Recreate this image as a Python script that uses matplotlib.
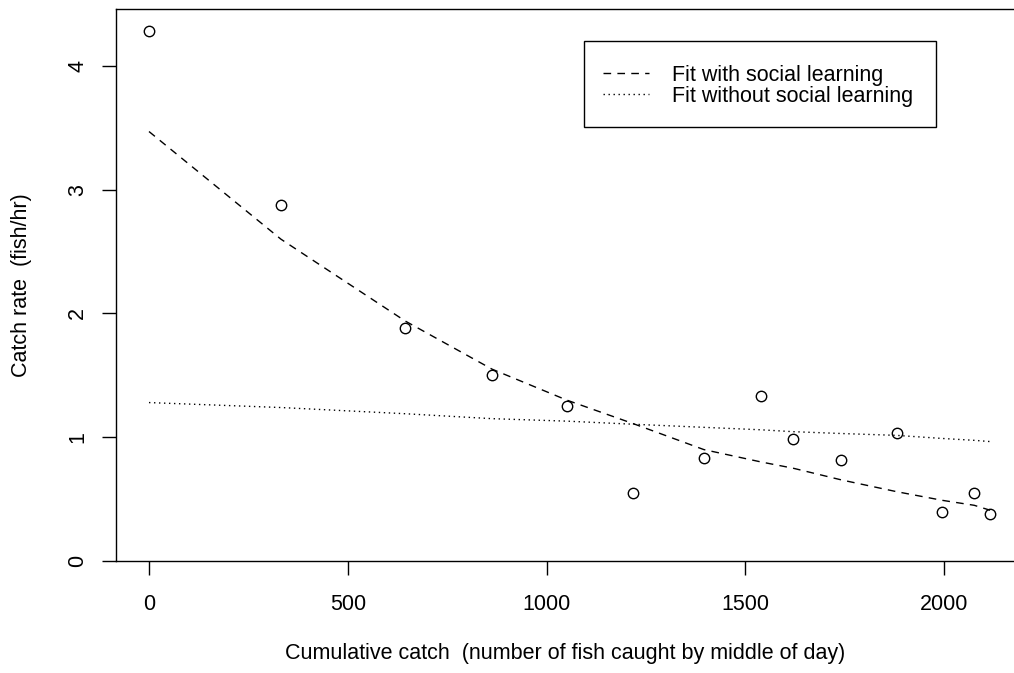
import matplotlib
matplotlib.use('Agg')
import matplotlib.pyplot as plt
from matplotlib.patches import Rectangle

plt.rcParams['font.family'] = ['Liberation Sans', 'DejaVu Sans']

# cumulative catch and observed catch rate
catch = [0, 332, 644, 863, 1051, 1218, 1396, 1540, 1620, 1742, 1881, 1996, 2076, 2116]
rate = [4.28, 2.88, 1.88, 1.50, 1.255, 0.547, 0.83, 1.336, 0.983, 0.816, 1.032, 0.394, 0.547, 0.38]
# model fits at the same points
fit_social = [3.47, 2.60, 1.94, 1.55, 1.30, 1.11, 0.90, 0.80, 0.75, 0.655, 0.56, 0.49, 0.45, 0.41]
fit_nosocial = [1.28, 1.24, 1.19, 1.15, 1.13, 1.105, 1.08, 1.06, 1.045, 1.03, 1.015, 0.99, 0.975, 0.965]

xticks = [0, 500, 1000, 1500, 2000]
yticks = [0, 1, 2, 3, 4]

fig = plt.figure(figsize=(10.14, 6.73), dpi=100)
ax = fig.add_axes([116/1014, 112/673, 898/1014, 552/673])

ax.plot(catch, rate, 'o', mfc='none', mec='black', ms=7.5, mew=1.0)
ax.plot(catch, fit_social, color='black', lw=1.0, dashes=(5.5, 4.5), label='Fit with social learning')
ax.plot(catch, fit_nosocial, color='black', lw=1.0, dashes=(1.0, 2.6), label='Fit without social learning')

ax.set_xlim(-83, 2176)
ax.set_ylim(0, 4.46)
ax.set_xticks(xticks)
ax.set_yticks(yticks)
ax.spines['right'].set_visible(False)
for s in ['left', 'bottom', 'top']:
    ax.spines[s].set_linewidth(1.0)
ax.tick_params(direction='out', length=10, width=1.0, labelsize=15.5, pad=14)
ax.tick_params(axis='y', pad=10)
for lab in ax.get_yticklabels():
    lab.set_rotation(90)
    lab.set_va('center')

ax.set_xlabel('Cumulative catch  (number of fish caught by middle of day)', fontsize=15.5, labelpad=20)
ax.set_ylabel('Catch rate  (fish/hr)', fontsize=15.5, labelpad=25)

# legend box drawn separately so the padding matches
ax.add_patch(Rectangle(((584-116)/898, (561-127)/552), (936-584)/898, 86/552,
                       transform=ax.transAxes, fill=False, edgecolor='black', lw=1.0, zorder=5))
leg = ax.legend(loc='upper left', bbox_to_anchor=((603-116)/898, (561-65)/552), fontsize=15.5,
                frameon=False, handlelength=2.15, handletextpad=1.05, borderpad=0,
                labelspacing=0.0, borderaxespad=0)

fig.savefig('out.png', dpi=100)
